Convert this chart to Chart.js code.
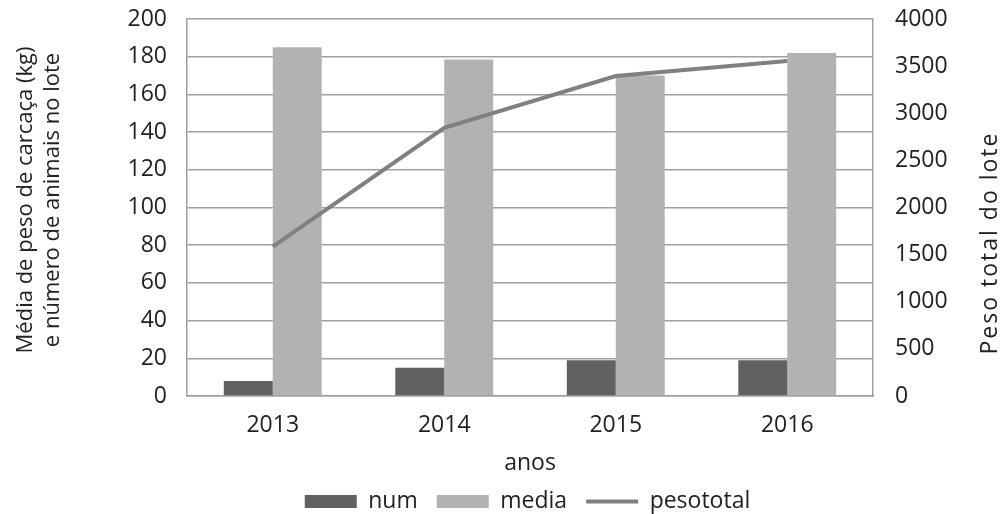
<!DOCTYPE html>
<html>
<head>
<meta charset="utf-8">
<script src="https://cdn.jsdelivr.net/npm/chart.js@4"></script>
<style>
  html, body { margin: 0; padding: 0; background: #fff; }
  #wrap { width: 1003px; height: 514px; position: relative; }
</style>
</head>
<body>
<div id="wrap"><canvas id="c" width="1003" height="514"></canvas></div>
<script>
const categories = ['2013', '2014', '2015', '2016'];
const numValues = [8, 15, 19, 19];
const mediaValues = [185, 178.5, 170, 182];
const pesototalValues = [1585, 2845, 3395, 3555];
const seriesNames = ['num', 'media', 'pesototal'];
const leftTitle = ['Média de peso de carcaça (kg)', 'e número de animais no lote'];
const rightTitle = 'Peso total do lote';
const xTitle = 'anos';

const FONT = '"Open Sans", "DejaVu Sans", sans-serif';
const TXT = '#222222';
const FS = 23;
const CLEAR = 'rgba(0,0,0,0)';

const axisTitles = {
  id: 'axisTitles',
  afterDraw(chart) {
    const ctx = chart.ctx;
    ctx.save();
    ctx.fillStyle = TXT;
    ctx.textAlign = 'center';
    ctx.textBaseline = 'middle';
    ctx.font = '22px ' + FONT;
    const cy = 200;
    ctx.save();
    ctx.translate(26, cy);
    ctx.rotate(-Math.PI / 2);
    ctx.fillText(leftTitle[0], 0, 0);
    ctx.restore();
    ctx.save();
    ctx.translate(53, cy);
    ctx.rotate(-Math.PI / 2);
    ctx.fillText(leftTitle[1], 0, 0);
    ctx.restore();
    ctx.save();
    ctx.font = '23px ' + FONT;
    if ('letterSpacing' in ctx) ctx.letterSpacing = '2px';
    ctx.translate(990, 243);
    ctx.rotate(-Math.PI / 2);
    ctx.fillText(rightTitle, 0, 0);
    ctx.restore();
    ctx.restore();
  }
};

const fixLegend = {
  id: 'fixLegend',
  beforeLayout(chart) {
    const lg = chart.legend;
    if (lg && !lg._patched) {
      const f = lg.fit.bind(lg);
      lg.fit = function () { f(); this.height = 46; };
      lg._patched = true;
    }
  },
  afterLayout(chart) {
    const lg = chart.legend;
    if (lg) { lg.left += 26; lg.right += 26; lg.top += 3; lg.bottom += 3; }
  }
};

const tickFont = { family: FONT, size: FS };

new Chart(document.getElementById('c'), {
  type: 'bar',
  data: {
    labels: categories,
    datasets: [
      { label: seriesNames[0], data: numValues, backgroundColor: '#616161', borderWidth: 0, yAxisID: 'y', order: 2, pointStyle: 'rect' },
      { label: seriesNames[1], data: mediaValues, backgroundColor: '#b2b2b2', borderWidth: 0, yAxisID: 'y', order: 2, pointStyle: 'rect' },
      { type: 'line', label: seriesNames[2], data: pesototalValues, borderColor: '#808080', backgroundColor: '#808080', borderWidth: 4, pointRadius: 0, tension: 0, yAxisID: 'y2', order: 0, pointStyle: 'line' }
    ]
  },
  options: {
    responsive: false,
    animation: false,
    devicePixelRatio: 1,
    layout: { padding: { top: 19, left: 0, right: 0, bottom: 0 } },
    datasets: { bar: { categoryPercentage: 0.571, barPercentage: 1.0 } },
    plugins: {
      legend: {
        position: 'bottom',
        labels: {
          usePointStyle: true, pointStyleWidth: 52, boxHeight: 13, padding: 19,
          color: TXT, font: { family: FONT, size: FS },
          sort: (a, b) => a.datasetIndex - b.datasetIndex
        }
      },
      tooltip: { enabled: false }
    },
    scales: {
      x: {
        grid: { display: false, drawTicks: false },
        border: { display: true, color: '#a0a0a0', width: 1.5 },
        ticks: { color: TXT, font: tickFont, padding: 16 },
        title: { display: true, text: xTitle, color: TXT, font: tickFont, padding: { top: 4, bottom: -9 } },
        afterFit(s) { s.height = 72; }
      },
      y: {
        position: 'left', min: 0, max: 200,
        ticks: { stepSize: 20, color: TXT, font: tickFont, padding: 0 },
        grid: { color: '#a0a0a0', lineWidth: 1.5, drawTicks: true, tickLength: 20, tickColor: CLEAR },
        border: { display: true, color: '#a0a0a0', width: 1.5 },
        afterFit(s) { s.width = 187; }
      },
      y2: {
        position: 'right', min: 0, max: 4000,
        ticks: { stepSize: 500, color: TXT, font: tickFont, padding: 0, callback: v => String(v) },
        grid: { display: true, drawOnChartArea: false, color: CLEAR, drawTicks: true, tickLength: 22, tickColor: CLEAR },
        border: { display: true, color: '#a0a0a0', width: 1.5 },
        afterFit(s) { s.width = 130; }
      }
    }
  },
  plugins: [axisTitles, fixLegend]
});
</script>
</body>
</html>
